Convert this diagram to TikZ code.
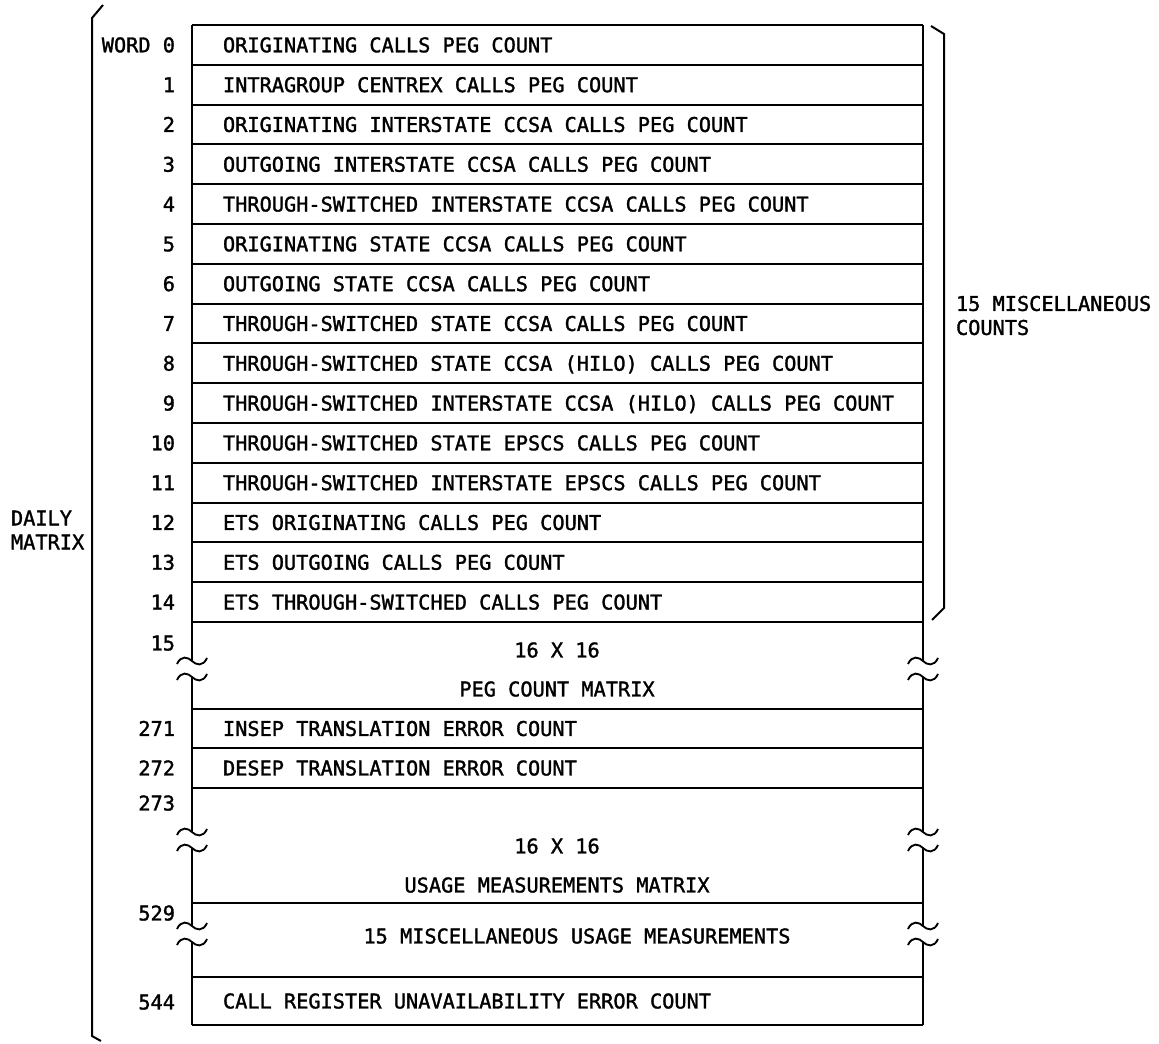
\documentclass[tikz,border=0pt]{standalone}
\usepackage{fontspec}
\usepackage{tikz}
\newfontfamily\lettering[FakeBold=1.5]{DejaVu Sans Mono}
\newcommand{\letterfont}{\lettering\fontsize{15.2}{18}\selectfont}

\begin{document}
\begin{tikzpicture}[x=0.75pt, y=-0.75pt, line width=1.5pt,
    word/.style={anchor=east, inner sep=0pt, font=\letterfont, text height=11.1pt, text depth=0pt},
    field/.style={anchor=west, inner sep=0pt, font=\letterfont, text height=11.1pt, text depth=0pt},
    mid/.style={inner sep=0pt, font=\letterfont, text height=11.1pt, text depth=0pt},
    note/.style={anchor=west, align=left, inner sep=0pt, font=\letterfont},
    brk/.pic={
      \draw[line width=1.4pt] (-15,-5) .. controls (-11,-14) and (-4,-12) .. (0,-8) .. controls (4,-4) and (11,-2) .. (15,-11);
      \draw[line width=1.4pt] (-15,11) .. controls (-11,2) and (-4,4) .. (0,8) .. controls (4,12) and (11,14) .. (15,5);
    }]
    \useasboundingbox (0,0) rectangle (1159,1043);

    % 15 miscellaneous counts
    \draw (192,25) -- (923,25);
    \foreach \w/\txt [count=\i from 0] in {WORD 0/ORIGINATING CALLS PEG COUNT,
        1/INTRAGROUP CENTREX CALLS PEG COUNT,
        2/ORIGINATING INTERSTATE CCSA CALLS PEG COUNT,
        3/OUTGOING INTERSTATE CCSA CALLS PEG COUNT,
        4/THROUGH-SWITCHED INTERSTATE CCSA CALLS PEG COUNT,
        5/ORIGINATING STATE CCSA CALLS PEG COUNT,
        6/OUTGOING STATE CCSA CALLS PEG COUNT,
        7/THROUGH-SWITCHED STATE CCSA CALLS PEG COUNT,
        8/THROUGH-SWITCHED STATE CCSA (HILO) CALLS PEG COUNT,
        9/THROUGH-SWITCHED INTERSTATE CCSA (HILO) CALLS PEG COUNT,
        10/THROUGH-SWITCHED STATE EPSCS CALLS PEG COUNT,
        11/THROUGH-SWITCHED INTERSTATE EPSCS CALLS PEG COUNT,
        12/ETS ORIGINATING CALLS PEG COUNT,
        13/ETS OUTGOING CALLS PEG COUNT,
        14/ETS THROUGH-SWITCHED CALLS PEG COUNT}{
      \node[word] (w\i) at (176,44.9+39.8*\i) {\w};
      \node[field] (f\i) at (222,44.9+39.8*\i) {\txt};
      \draw (192,64.8+39.8*\i) -- (923,64.8+39.8*\i);
    }

    % peg count matrix
    \node[word] (w15) at (176,643) {15};
    \node[mid] (pegsize) at (557,650) {16 X 16};
    \node[mid] (pegmat) at (557,689) {PEG COUNT MATRIX};
    \draw (192,709) -- (923,709);

    \node[word] (w271) at (176,728.5) {271};
    \node[field] (f271) at (222,728.5) {INSEP TRANSLATION ERROR COUNT};
    \draw (192,748) -- (923,748);
    \node[word] (w272) at (176,768) {272};
    \node[field] (f272) at (222,768) {DESEP TRANSLATION ERROR COUNT};
    \draw (192,788) -- (923,788);

    % usage measurements
    \node[word] (w273) at (176,803) {273};
    \node[mid] (usesize) at (557,846) {16 X 16};
    \node[mid] (usemat) at (557,885) {USAGE MEASUREMENTS MATRIX};
    \draw (192,903) -- (923,903);
    \node[word] (w529) at (176,913) {529};
    \node[mid] (miscuse) at (577,936) {15 MISCELLANEOUS USAGE MEASUREMENTS};
    \draw (192,977) -- (923,977);
    \node[word] (w544) at (176,1002) {544};
    \node[field] (f544) at (222,1001) {CALL REGISTER UNAVAILABILITY ERROR COUNT};
    \draw (192,1025) -- (923,1025);

    % side walls with breaks
    \foreach \x in {192,923} {
      \draw (\x,25) -- (\x,661) (\x,677) -- (\x,832) (\x,848) -- (\x,926) (\x,942) -- (\x,1025);
      \pic at (\x,669) {brk};
      \pic at (\x,840) {brk};
      \pic at (\x,934) {brk};
    }

    % braces
    \draw (103,5) -- (92,18) -- (92,1036) -- (101,1041);
    \draw (931,26) -- (944,34) -- (944,608) -- (932,620);
    \node[note] (daily) at (10,530) {DAILY\\MATRIX};
    \node[note] (misc) at (955,315.5) {15 MISCELLANEOUS\\COUNTS};
  \end{tikzpicture}
\end{document}
